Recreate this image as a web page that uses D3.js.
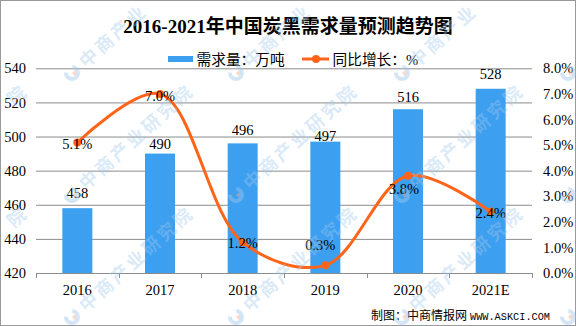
<!DOCTYPE html>
<html>
<head>
<meta charset="utf-8">
<script src="https://cdn.jsdelivr.net/npm/d3@7"></script>
<style>
  html, body { margin: 0; padding: 0; background: #fff; }
  svg { display: block; }
</style>
</head>
<body>
<svg id="chart" width="576" height="326"></svg>
<script>
// Carbon black demand (10k tonnes) and year-on-year growth (%)
const years = ["2016", "2017", "2018", "2019", "2020", "2021E"];
const demand = [458, 490, 496, 497, 516, 528];
const growth = [5.1, 7.0, 1.2, 0.3, 3.8, 2.4];
const demandTicks = [420, 440, 460, 480, 500, 520, 540];
const growthTicks = [0, 1, 2, 3, 4, 5, 6, 7, 8];

// hand-placed label nudges (px) so labels stay clear of the line
const demandLabelGap = [15, 10, 13, 6, 12, 15];
const growthLabelShift = [[0, 1], [0, 2], [0, 1], [-5, -20], [-4, 13], [0, 1]];

const numFont = "'Liberation Serif', 'Noto Sans CJK SC', serif";
const cjkFont = "'Liberation Serif', 'Noto Sans CJK SC', sans-serif";
const barColor = "#3d9ff0";
const lineColor = "#ff6418";
const gridColor = "#8c8c8c";
const W = 576, H = 326;

const svg = d3.select("#chart");
const plotL = 36, plotR = 532, plotT = 68.3, plotB = 273;

const x = d3.scaleBand().domain(years).range([plotL, plotR]);
const yL = d3.scaleLinear().domain([420, 540]).range([plotB, plotT]);
const yR = d3.scaleLinear().domain([0, 8]).range([plotB, plotT]);

// outer frame
svg.append("rect")
  .attr("x", 0.5).attr("y", 0.5).attr("width", W - 1).attr("height", H - 1)
  .attr("fill", "#fff").attr("stroke", "#9a9a9a");

// title
svg.append("text")
  .attr("x", 288).attr("y", 33)
  .attr("text-anchor", "middle")
  .attr("font-family", cjkFont).attr("font-size", 19).attr("font-weight", "bold")
  .attr("fill", "#000")
  .text("2016-2021年中国炭黑需求量预测趋势图");

// legend
const legend = svg.append("g");
legend.append("rect").attr("x", 168).attr("y", 56).attr("width", 25).attr("height", 6).attr("fill", barColor);
legend.append("text").attr("x", 196.5).attr("y", 64.5)
  .attr("font-family", cjkFont).attr("font-size", 14.7).text("需求量：万吨");
legend.append("line").attr("x1", 302).attr("x2", 329).attr("y1", 59).attr("y2", 59)
  .attr("stroke", lineColor).attr("stroke-width", 3);
legend.append("circle").attr("cx", 316).attr("cy", 59).attr("r", 4).attr("fill", lineColor);
legend.append("text").attr("x", 332.5).attr("y", 64.5)
  .attr("font-family", cjkFont).attr("font-size", 14.7).text("同比增长：%");

// horizontal gridlines
const grid = svg.append("g").attr("transform", `translate(${plotL},0)`)
  .call(d3.axisLeft(yL).tickValues(demandTicks.slice(1)).tickSize(-(plotR - plotL)).tickFormat(""));
grid.select(".domain").remove();
grid.selectAll(".tick line").attr("stroke", gridColor).attr("stroke-width", 1);

// left axis labels
const axL = svg.append("g").attr("transform", `translate(${plotL},0)`)
  .call(d3.axisLeft(yL).tickValues(demandTicks).tickSize(0).tickPadding(10));
axL.select(".domain").remove();
axL.selectAll("text").attr("font-family", numFont).attr("font-size", 14.5).attr("fill", "#000");

// right axis labels
const axR = svg.append("g").attr("transform", `translate(${plotR},0)`)
  .call(d3.axisRight(yR).tickValues(growthTicks).tickSize(0).tickPadding(11)
    .tickFormat(d => d.toFixed(1) + "%"));
axR.select(".domain").remove();
axR.selectAll("text").attr("font-family", numFont).attr("font-size", 14.5).attr("fill", "#000");

// bars
const barW = x.bandwidth() * 0.363;
svg.append("g").selectAll("rect").data(demand).join("rect")
  .attr("x", (d, i) => x(years[i]) + x.bandwidth() / 2 - barW / 2)
  .attr("y", d => yL(d))
  .attr("width", barW)
  .attr("height", d => yL(420) - yL(d))
  .attr("fill", barColor);

// bottom axis
const axB = svg.append("g").attr("transform", `translate(0,${plotB})`)
  .call(d3.axisBottom(x).tickSize(0).tickPadding(12));
axB.select(".domain").attr("stroke", gridColor).attr("d", `M${plotL},0.5H${plotR}`);
axB.selectAll("text").attr("font-family", numFont).attr("font-size", 14.5).attr("fill", "#000");
const boundaries = years.map(y => x(y)).concat([x(years[years.length - 1]) + x.bandwidth()]);
axB.selectAll(".bound").data(boundaries).join("line")
  .attr("class", "bound")
  .attr("x1", d => Math.round(d) + 0.5).attr("x2", d => Math.round(d) + 0.5)
  .attr("y1", 0).attr("y2", 5)
  .attr("stroke", gridColor);

// bar value labels
svg.append("g").selectAll("text").data(demand).join("text")
  .attr("x", (d, i) => x(years[i]) + x.bandwidth() / 2)
  .attr("y", (d, i) => yL(d) - demandLabelGap[i] + 5)
  .attr("text-anchor", "middle")
  .attr("font-family", numFont).attr("font-size", 14.5).attr("fill", "#000")
  .text(d => d);

// growth line
const pts = growth.map((g, i) => [x(years[i]) + x.bandwidth() / 2, yR(g)]);
svg.append("path")
  .attr("d", d3.line().curve(d3.curveCatmullRom.alpha(0.5))(pts))
  .attr("fill", "none").attr("stroke", lineColor).attr("stroke-width", 3)
  .attr("stroke-linecap", "round");
svg.append("g").selectAll("circle").data(pts).join("circle")
  .attr("cx", d => d[0]).attr("cy", d => d[1]).attr("r", 4)
  .attr("fill", lineColor);

// growth value labels
svg.append("g").selectAll("text").data(growth).join("text")
  .attr("x", (d, i) => pts[i][0] + growthLabelShift[i][0])
  .attr("y", (d, i) => pts[i][1] + growthLabelShift[i][1] + 5)
  .attr("text-anchor", "middle")
  .attr("font-family", numFont).attr("font-size", 14.5).attr("fill", "#000")
  .text(d => d.toFixed(1) + "%");

// source note
svg.append("text").attr("x", 371).attr("y", 319.5)
  .attr("font-family", cjkFont).attr("font-size", 12).text("制图：中商情报网");
svg.append("text").attr("x", 470).attr("y", 319.5)
  .attr("font-family", "'Liberation Mono', monospace").attr("font-size", 11)
  .attr("textLength", 80).attr("lengthAdjust", "spacingAndGlyphs")
  .text("WWW.ASKCI.COM");

// tiled publisher watermark, laid out glyph by glyph along a diagonal;
// glyphs that would fall past the page edge are skipped
const markCols = [-94, 72, 236, 402, 568];
const markRows = [73, 195, 317, 439];
const markText = "中商产业研究院";
const ang = -42 * Math.PI / 180, ca = Math.cos(ang), sa = Math.sin(ang);
const marks = svg.append("g").attr("pointer-events", "none");
markRows.forEach(my => markCols.forEach(mx => {
  if (mx > -10 && mx < W + 10 && my > -10 && my < H + 10) {
    const g = marks.append("g").attr("transform", `translate(${mx},${my}) rotate(-42)`);
    g.append("path")
      .attr("d", d3.arc().innerRadius(4).outerRadius(8).startAngle(Math.PI * 0.25).endAngle(Math.PI * 1.75)())
      .attr("fill", "rgba(160,200,236,0.45)");
    g.append("path")
      .attr("d", d3.arc().innerRadius(0).outerRadius(4).startAngle(Math.PI * 0.5).endAngle(Math.PI)())
      .attr("fill", "rgba(245,170,140,0.45)");
  }
  Array.from(markText).forEach((ch, k) => {
    const dist = 12 + (k + 0.5) * 21;
    const cx = mx + dist * ca, cy = my + dist * sa;
    if (cx < 12 || cx > W - 12 || cy < 12 || cy > H - 12) return;
    marks.append("text")
      .attr("transform", `translate(${cx},${cy}) rotate(-42)`)
      .attr("text-anchor", "middle").attr("dy", "0.36em")
      .attr("font-family", "'Noto Sans CJK SC', sans-serif").attr("font-size", 18)
      .attr("font-weight", "bold")
      .attr("fill", "rgba(160,200,236,0.4)")
      .text(ch);
  });
}));
</script>
</body>
</html>
